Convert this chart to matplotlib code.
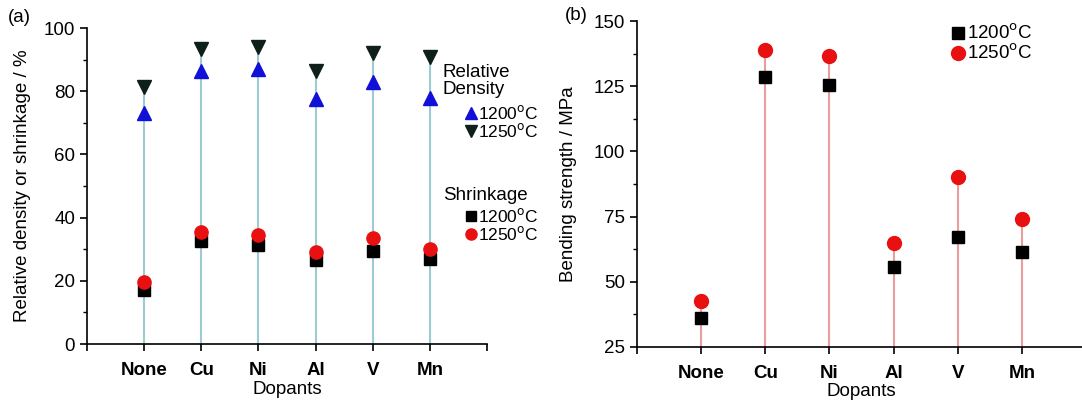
import matplotlib.pyplot as plt
from matplotlib.ticker import MultipleLocator

plt.rcParams['font.family'] = ['Liberation Sans', 'DejaVu Sans']

dopants = ['None', 'Cu', 'Ni', 'Al', 'V', 'Mn']
x = [1, 2, 3, 4, 5, 6]

# (a) relative density and shrinkage, %
density_1200 = [73, 86.5, 87, 77.5, 83, 78]
density_1250 = [81.5, 93.5, 94, 86.5, 92, 91]
shrink_1200 = [17, 32.5, 31.5, 26.5, 29.5, 27]
shrink_1250 = [19.5, 35.5, 34.5, 29, 33.5, 30]

# (b) bending strength, MPa
bend_1200 = [36, 128.5, 125.5, 55.5, 67, 61.5]
bend_1250 = [42.5, 139, 136.5, 65, 90, 74]

fig = plt.figure(figsize=(10.82, 4.01), dpi=100)
ax1 = fig.add_axes([0.0804, 0.142, 0.3696, 0.788])
ax2 = fig.add_axes([0.5887, 0.1347, 0.415, 0.8129])

fs = 13.5
lfs = 12.5
line_a = '#9ccbd2'
line_b = '#eb9c9c'

# ---- panel a ----
ax1.vlines(x, 0, density_1250, color=line_a, lw=1.5, zorder=1)
ax1.plot(x, density_1200, '^', color='#1010d8', ms=10.5, ls='none', zorder=3)
ax1.plot(x, density_1250, 'v', color='#0f1f1a', ms=10.5, ls='none', zorder=3)
ax1.plot(x, shrink_1200, 's', color='black', ms=8.5, ls='none', zorder=3)
ax1.plot(x, shrink_1250, 'o', color='#e81010', ms=9.5, ls='none', zorder=3)
ax1.set_xlim(0, 7)
ax1.set_ylim(0, 100)
ax1.yaxis.set_major_locator(MultipleLocator(20))
ax1.yaxis.set_minor_locator(MultipleLocator(10))
ax1.set_ylabel('Relative density or shrinkage / %', fontsize=fs, labelpad=9)

# ---- panel b ----
ax2.vlines(x, 25, bend_1250, color=line_b, lw=1.5, zorder=1)
ax2.plot(x, bend_1200, 's', color='black', ms=9, ls='none', zorder=3)
ax2.plot(x, bend_1250, 'o', color='#e81010', ms=10, ls='none', zorder=3)
ax2.set_xlim(0, 7)
ax2.set_ylim(25, 150)
ax2.yaxis.set_major_locator(MultipleLocator(25))
ax2.yaxis.set_minor_locator(MultipleLocator(12.5))
ax2.set_ylabel('Bending strength / MPa', fontsize=fs, labelpad=12)

for ax in (ax1, ax2):
    ax.spines['top'].set_visible(False)
    ax.spines['right'].set_visible(False)
    ax.spines['left'].set_linewidth(1.2)
    ax.spines['bottom'].set_linewidth(1.2)
    ax.set_xticks(range(8))
    ax.set_xticklabels([''] + dopants + [''], fontsize=fs, fontweight='bold')
    ax.tick_params(axis='both', which='major', direction='out', length=5, width=1.2, labelsize=fs)
    ax.tick_params(axis='x', which='major', pad=8)
    ax.tick_params(axis='y', which='minor', direction='out', length=3, width=1)
    ax.set_xlabel('Dopants', fontsize=fs, labelpad=1)

# legend panel a (placed in figure pixels)
W, H = 1082.0, 401.0
def fx(px):
    return px / W
def fy(py):
    return 1 - py / H

fig.text(fx(443), fy(64), 'Relative\nDensity', fontsize=fs, va='top', ha='left', linespacing=1.0)
fig.text(fx(443), fy(196), 'Shrinkage', fontsize=fs, va='center', ha='left')
leg_a = [('^', '#1010d8', 9, 113, '1200$^{\\rm o}$C'),
         ('v', '#0f1f1a', 9, 131, '1250$^{\\rm o}$C'),
         ('s', 'black', 7, 216, '1200$^{\\rm o}$C'),
         ('o', '#e81010', 8, 234, '1250$^{\\rm o}$C')]
for m, c, s, py, lab in leg_a:
    ax1.plot([fx(471)], [fy(py)], m, color=c, ms=s, transform=fig.transFigure, clip_on=False)
    fig.text(fx(478), fy(py), lab, fontsize=lfs, va='center', ha='left')

leg_b = [('s', 'black', 9, 33, '1200$^{\\rm o}$C'),
         ('o', '#e81010', 10, 53, '1250$^{\\rm o}$C')]
for m, c, s, py, lab in leg_b:
    ax2.plot([fx(958)], [fy(py)], m, color=c, ms=s, transform=fig.transFigure, clip_on=False)
    fig.text(fx(967), fy(py), lab, fontsize=fs, va='center', ha='left')

fig.text(fx(8), fy(17), '(a)', fontsize=fs, va='center', ha='left')
fig.text(fx(565), fy(15), '(b)', fontsize=fs, va='center', ha='left')

fig.savefig('out.png', dpi=100)
